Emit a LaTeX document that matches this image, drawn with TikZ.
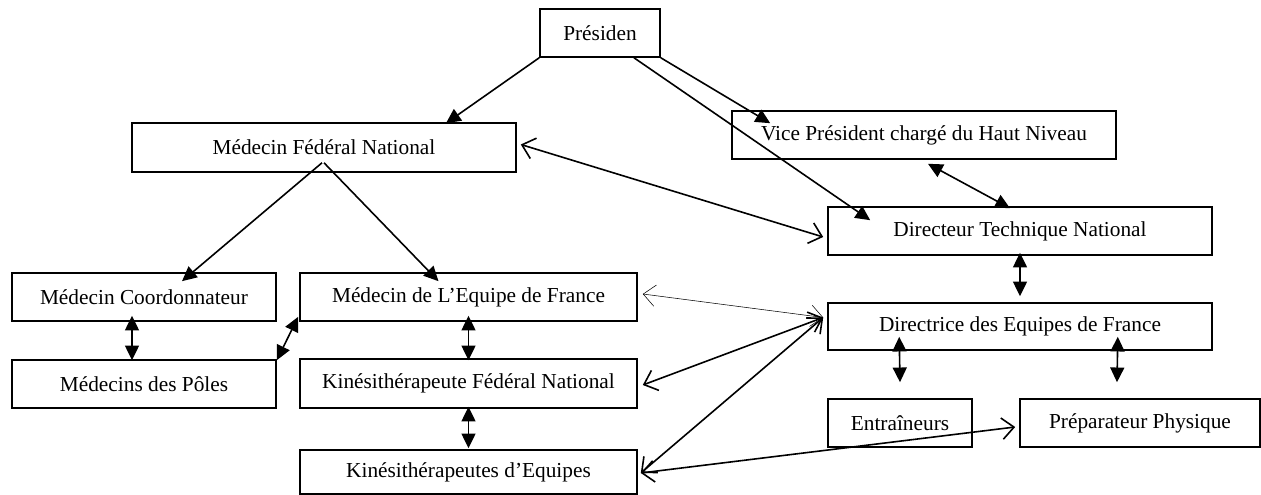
\documentclass[tikz,border=0pt]{standalone}
\usepackage{fontspec}
\setmainfont{Liberation Serif}
\usetikzlibrary{arrows.meta,calc}
\begin{document}
\begin{tikzpicture}[x=0.75pt,y=-0.75pt,
  box/.style={draw,line width=1.2pt,inner sep=0pt,font=\fontsize{16}{19}\selectfont},
  fa/.style={line width=1.2pt,-{Triangle[length=11pt,width=10.5pt]}},
  fab/.style={line width=1.2pt,{Triangle[length=11pt,width=10.5pt]}-{Triangle[length=11pt,width=10.5pt]}},
  oab/.style={line width=1.2pt,{Straight Barb[length=9pt,width=16pt]}-{Straight Barb[length=9pt,width=16pt]}},
  thinab/.style={line width=0.4pt,{Straight Barb[length=9pt,width=16pt]}-{Straight Barb[length=9pt,width=16pt]}}]
\useasboundingbox (0,0) rectangle (1261,495);

\node[box,minimum width=90pt,minimum height=36pt] (pres) at (600,33) {Présiden};
\node[box,minimum width=288pt,minimum height=36.75pt] (mfn) at (324,147.5) {Médecin Fédéral National};
\node[box,minimum width=288pt,minimum height=36pt] (vp) at (924,135) {Vice Président chargé du Haut Niveau};
\node[box,minimum width=288pt,minimum height=36pt] (dtn) at (1020,231) {Directeur Technique National};
\node[box,minimum width=198pt,minimum height=36pt] (mc) at (144,297) {Médecin Coordonnateur};
\node[box,minimum width=252.75pt,minimum height=36pt] (mef) at (468.5,297) {Médecin de L’Equipe de France};
\node[box,minimum width=288pt,minimum height=35.25pt] (def) at (1020,326.5) {Directrice des Equipes de France};
\node[box,minimum width=198pt,minimum height=36pt] (mp) at (144,384) {Médecins des Pôles};
\node[box,minimum width=252.75pt,minimum height=36.75pt] (kfn) at (468.5,383.5) {Kinésithérapeute Fédéral National};
\node[box,minimum width=252.75pt,minimum height=33pt] (ke) at (468.5,472) {Kinésithérapeutes d’Equipes};
\node[box,minimum width=108pt,minimum height=36pt] (ent) at (900,423) {Entraîneurs};
\node[box,minimum width=180pt,minimum height=36pt] (pp) at (1140,423) {Préparateur Physique};

% Président
\draw[fa] (pres.south west) -- ($(mfn.north)+(122,1)$);
\draw[fa] (pres.south east) -- ($(vp.north west)+(39,13)$);
\draw[fa] ($(pres.south)+(34,0)$) -- ($(dtn.north west)+(43,14)$);
% Médecin Fédéral National
\draw[fa] ($(mfn.south)+(-2,-10)$) -- ($(mc.north)+(38,9)$);
\draw[fa] ($(mfn.south)+(0,-10)$) -- ($(mef.north)+(-30,9)$);
\draw[oab] ($(mfn.east)+(4,-3)$) -- ($(dtn.west)+(-4,6)$);
% left column
\draw[fab] ($(mc.south)+(-12,-6)$) -- ($(mp.north)+(-12,1)$);
\draw[fab] ($(mef.south west)+(-1,-5)$) -- ($(mp.north east)+(0,1)$);
\draw[fab] ($(mef.south)+(0,-6)$) -- ($(kfn.north)+(0,2)$);
\draw[fab] ($(kfn.south)+(0,-2)$) -- ($(ke.north)+(0,-1)$);
% right column
\draw[fab] ($(vp.south)+(4,4)$) -- ($(dtn.north)+(-10,2)$);
\draw[fab] ($(dtn.south)+(0,-3)$) -- ($(def.north)+(0,-6)$);
\draw[fab] ($(def.south west)+(72,-14)$) -- ($(ent.north)+(0,-16)$);
\draw[fab] ($(def.south east)+(-95,-14)$) -- ($(pp.north)+(-23,-16)$);
% cross links
\draw[thinab] ($(mef.east)+(5,-3)$) -- ($(def.west)+(-4,-9)$);
\draw[oab] ($(kfn.east)+(5,1.5)$) -- ($(def.west)+(-4,-9)$);
\draw[oab] ($(ke.east)+(3,1)$) -- ($(def.west)+(-4,-9)$);
\draw[oab] ($(ke.east)+(3,1)$) -- ($(pp.west)+(-4,4)$);
\end{tikzpicture}
\end{document}
